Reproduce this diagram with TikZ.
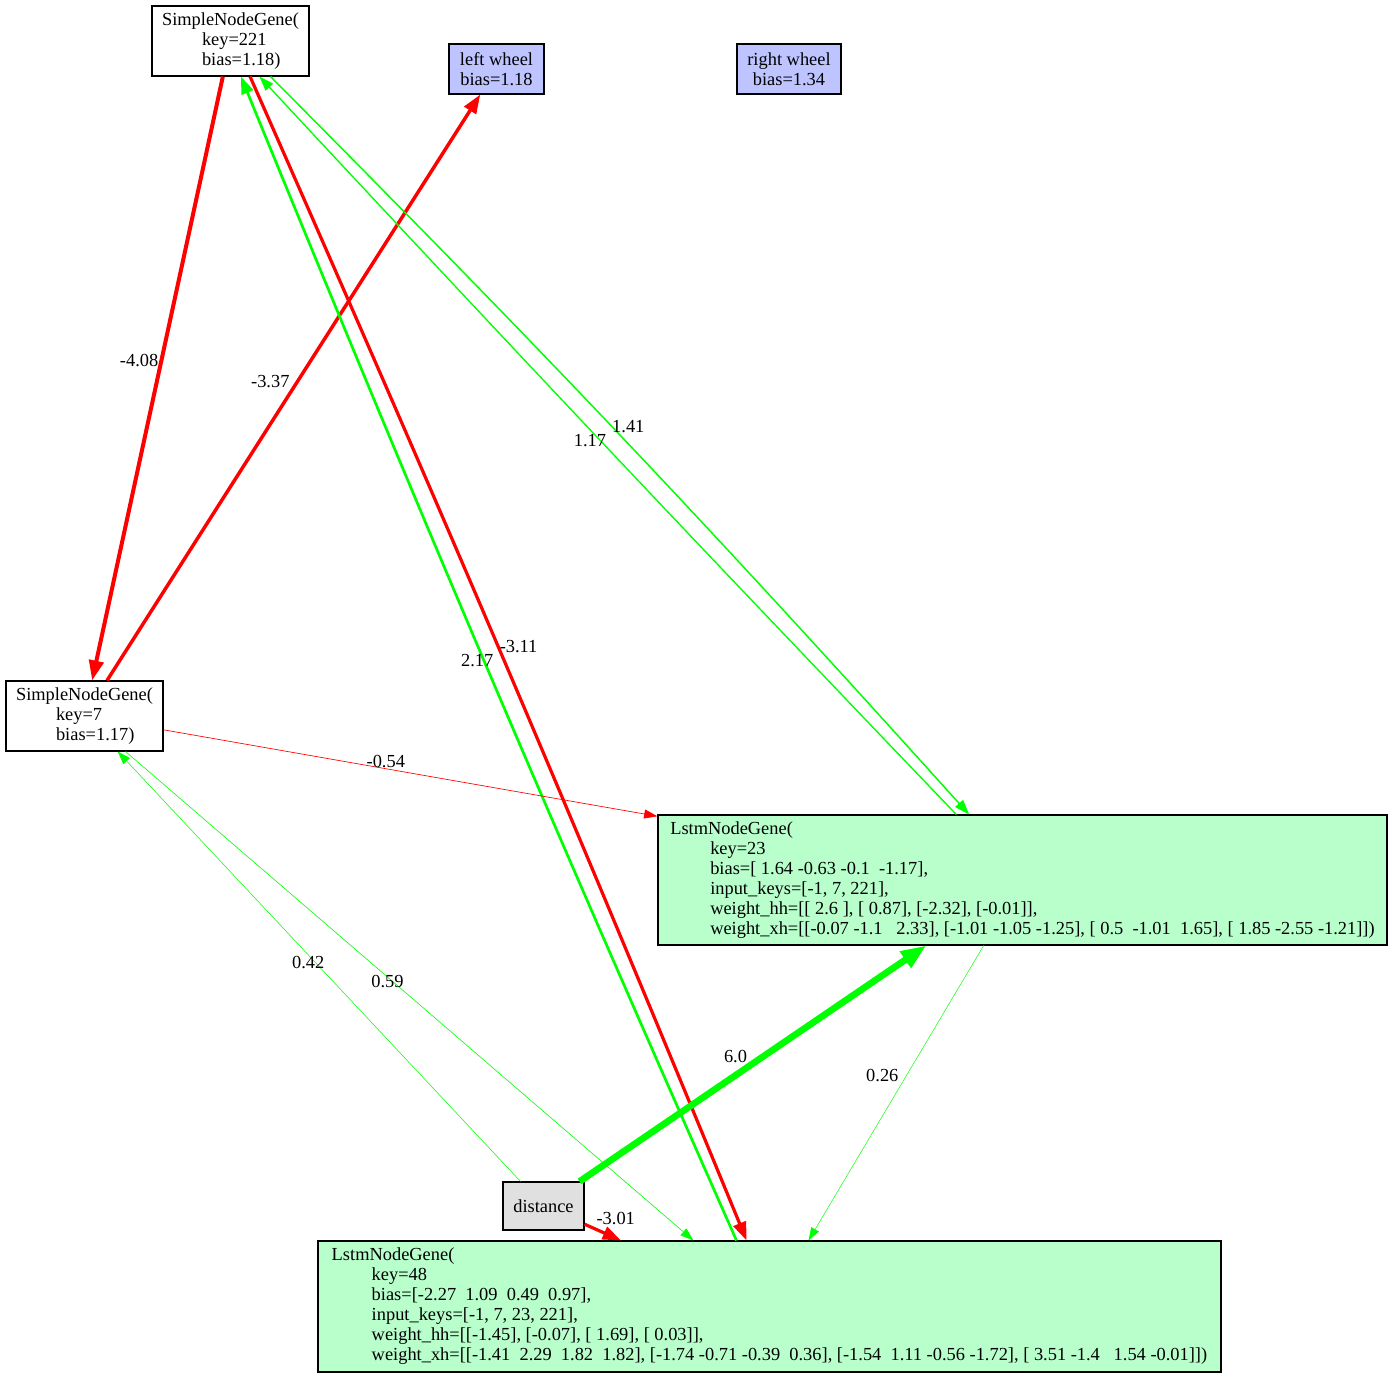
\documentclass[tikz,border=0pt]{standalone}
\usepackage{fontspec}
\setmainfont{Liberation Serif}
\usetikzlibrary{arrows.meta,positioning}
\definecolor{wheelfill}{RGB}{189,196,255}
\definecolor{lstmfill}{RGB}{184,255,204}
\definecolor{inputfill}{RGB}{224,224,224}
\definecolor{posw}{RGB}{0,255,0}
\definecolor{negw}{RGB}{255,0,0}
\newcommand{\geneindent}{\hspace*{30pt}}

\begin{document}
\begin{tikzpicture}
		[x=0.75pt,y=-0.75pt,
		every node/.style={font=\fontsize{13.8}{15}\selectfont},
		gene/.style={draw,rectangle,line width=0.8pt,inner xsep=2pt,inner ysep=1pt,align=left},
		wheel/.style={gene,fill=wheelfill,align=center},
		lstm/.style={gene,fill=lstmfill},
		sensor/.style={gene,fill=inputfill,align=center},
		conn/.style={-{Triangle[length=9pt 2,width=6pt 1.6]}},
		excite/.style={conn,draw=posw,line width=#1},
		inhibit/.style={conn,draw=negw,line width=#1},
		elabel/.style={inner sep=1pt,text=black}]
		\useasboundingbox (0,0) rectangle (1392,1377);
		\node[gene,minimum width=117.75pt,minimum height=52.5pt] (n221) at (230.5,41)
			{SimpleNodeGene(\\ \geneindent key=221\\ \geneindent bias=1.18)};
		\node[wheel,minimum width=71.25pt,minimum height=37.5pt] (nleft) at (496.5,69)
			{left wheel\\ bias=1.18};
		\node[wheel,minimum width=78pt,minimum height=37.5pt] (nright) at (789,69)
			{right wheel\\ bias=1.34};
		\node[gene,minimum width=117.75pt,minimum height=52.5pt] (n7) at (84.5,716)
			{SimpleNodeGene(\\ \geneindent key=7\\ \geneindent bias=1.17)};
		\node[lstm,minimum width=546.75pt,minimum height=97.5pt] (n23) at (1022.5,880)
			{LstmNodeGene(\\
			\geneindent key=23\\
			\geneindent bias=[ 1.64 -0.63 -0.1~~-1.17],\\
			\geneindent input\_keys=[-1, 7, 221],\\
			\geneindent weight\_hh=[[ 2.6 ], [ 0.87], [-2.32], [-0.01]],\\
			\geneindent weight\_xh=[[-0.07 -1.1~~~2.33], [-1.01 -1.05 -1.25], [ 0.5~~-1.01~~1.65], [ 1.85 -2.55 -1.21]])};
		\node[lstm,minimum width=677.25pt,minimum height=98.25pt] (n48) at (769.5,1306.5)
			{LstmNodeGene(\\
			\geneindent key=48\\
			\geneindent bias=[-2.27~~1.09~~0.49~~0.97],\\
			\geneindent input\_keys=[-1, 7, 23, 221],\\
			\geneindent weight\_hh=[[-1.45], [-0.07], [ 1.69], [ 0.03]],\\
			\geneindent weight\_xh=[[-1.41~~2.29~~1.82~~1.82], [-1.74 -0.71 -0.39~~0.36], [-1.54~~1.11 -0.56 -1.72], [ 3.51 -1.4~~~1.54 -0.01]])};
		\node[sensor,minimum width=60.75pt,minimum height=36pt] (ndist) at (543.5,1206) {distance};
		\draw[inhibit=3pt] (n221) -- node[elabel,pos=.47,xshift=-16.7pt] {-4.08} (n7);
		\draw[inhibit=2.6pt] (n7) -- node[elabel,pos=.51,xshift=-20.3pt] {-3.37} (nleft);
		\draw[inhibit=2.4pt,transform canvas={xshift=3pt}] (n221) to[bend left=0.7] node[elabel,pos=.49,xshift=15.5pt] {-3.11} (n48);
		\draw[excite=2pt,transform canvas={xshift=-3pt}] (n48) to[bend left=0.8] node[elabel,pos=.5,xshift=-5pt] {2.17} (n221);
		\draw[excite=1.1pt,transform canvas={xshift=3.75pt}] (n221) to[bend left=1.4] node[elabel,pos=.48,xshift=12pt] {1.41} (n23);
		\draw[excite=1pt,transform canvas={xshift=-3pt}] (n23) to[bend left=0.4] node[elabel,pos=.51,xshift=-7.5pt] {1.17} (n221);
		\draw[inhibit=0.5pt] (n7) -- node[elabel,pos=.45,yshift=5.5pt] {-0.54} (n23);
		\draw[excite=0.4pt] (ndist) -- node[elabel,pos=.51,xshift=-5.2pt] {0.42} (n7);
		\draw[excite=0.45pt] (n7) -- node[elabel,pos=.47,xshift=-3.7pt] {0.59} (n48);
		\draw[excite=5pt] (ndist) -- node[elabel,pos=.45,yshift=14pt] {6.0} (n23);
		\draw[excite=0.35pt] (n23) -- node[elabel,pos=.44,xshift=-18.2pt] {0.26} (n48);
		\draw[inhibit=2.4pt] (ndist) -- node[elabel,pos=.5,xshift=9.7pt,yshift=10.1pt] {-3.01} (n48);
\end{tikzpicture}
\end{document}
